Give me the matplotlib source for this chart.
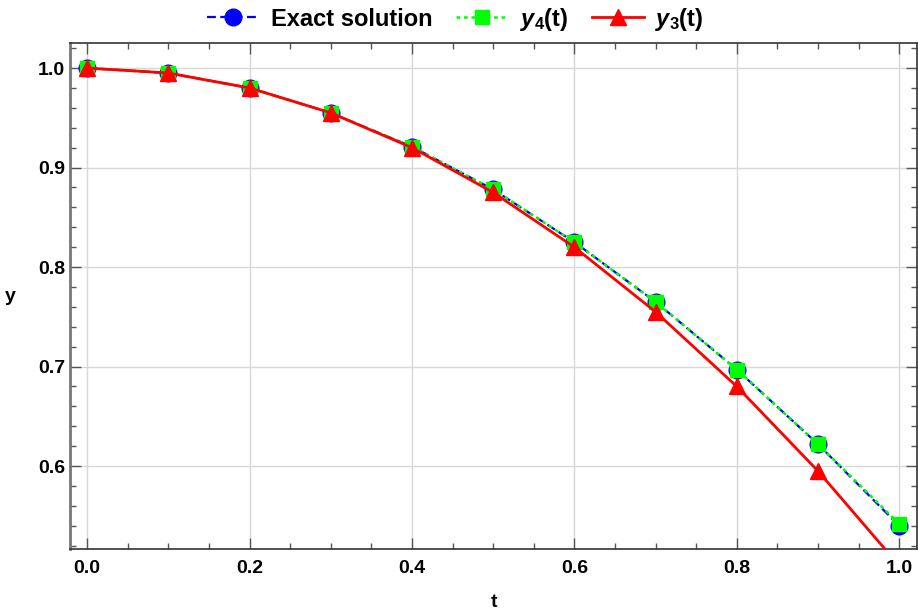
import matplotlib.pyplot as plt
from matplotlib.ticker import MultipleLocator

plt.rcParams['font.family'] = ['Liberation Sans', 'DejaVu Sans']
plt.rcParams['mathtext.fontset'] = 'custom'
plt.rcParams['mathtext.it'] = 'Liberation Sans:bold:italic'
plt.rcParams['mathtext.rm'] = 'Liberation Sans:bold'
plt.rcParams['mathtext.bf'] = 'Liberation Sans:bold'

# data
t = [0.0, 0.1, 0.2, 0.3, 0.4, 0.5, 0.6, 0.7, 0.8, 0.9, 1.0]
exact = [1.0, 0.995, 0.980, 0.955, 0.921, 0.878, 0.825, 0.765, 0.697, 0.622, 0.540]
y4 = [1.0, 0.995, 0.980, 0.955, 0.921, 0.878, 0.825, 0.765, 0.697, 0.622, 0.542]
y3 = [1.0, 0.995, 0.980, 0.955, 0.920, 0.875, 0.820, 0.755, 0.680, 0.595, 0.500]

fig = plt.figure(figsize=(9.18, 6.11), dpi=100)
ax = fig.add_axes([0.0763, 0.1015, 0.9226, 0.8275])

ax.plot(t, exact, color='#0000ff', ls=(0, (4, 2)), lw=1.6, marker='o', ms=12,
        label='Exact solution', zorder=3)
ax.plot(t, y4, color='#00ff00', ls=(0, (1.5, 1.5)), lw=1.8, marker='s', ms=10,
        label='$y_4$(t)', zorder=4)
ax.plot(t, y3, color='#ff0000', ls='-', lw=2, marker='^', ms=12,
        label='$y_3$(t)', zorder=5)

ax.xaxis.set_major_locator(MultipleLocator(0.2))
ax.xaxis.set_minor_locator(MultipleLocator(0.05))
ax.yaxis.set_major_locator(MultipleLocator(0.1))
ax.yaxis.set_minor_locator(MultipleLocator(0.02))
ax.grid(True, which='major', color='#d8d8d8', lw=1)
ax.set_axisbelow(True)

ax.tick_params(which='both', direction='in', top=True, right=True,
               color='#555555', labelsize=14)
ax.tick_params(which='major', length=8, width=1)
ax.tick_params(which='minor', length=4, width=1)
ax.tick_params(axis='x', pad=8)
ax.set_xlim(-0.021, 1.022)
ax.set_ylim(0.5166, 1.0248)
ax.set_xticks(ax.get_xticks())
ax.set_yticks(ax.get_yticks())
ax.set_xticklabels([f'{v:.1f}' for v in ax.get_xticks()], fontweight='bold')
ax.set_yticklabels([f'{v:.1f}' for v in ax.get_yticks()], fontweight='bold')
ax.set_xlim(-0.021, 1.022)
ax.set_ylim(0.5166, 1.0248)

for s in ax.spines.values():
    s.set_color('#333333')
    s.set_linewidth(1.2)
ax.spines['left'].set_color('#777777')
ax.spines['left'].set_linewidth(2)

ax.set_xlabel('t', fontsize=14, fontweight='bold', labelpad=12)
ax.set_ylabel('y', fontsize=14, fontweight='bold', rotation=0, labelpad=20, va='center')

leg = ax.legend(loc='lower center', bbox_to_anchor=(0.455, 1.0), ncol=3, frameon=False,
                prop={'size': 17, 'weight': 'bold'}, handlelength=2.2, columnspacing=1.0,
                handletextpad=0.5, borderaxespad=0.05)

fig.savefig('out.png', dpi=100)
